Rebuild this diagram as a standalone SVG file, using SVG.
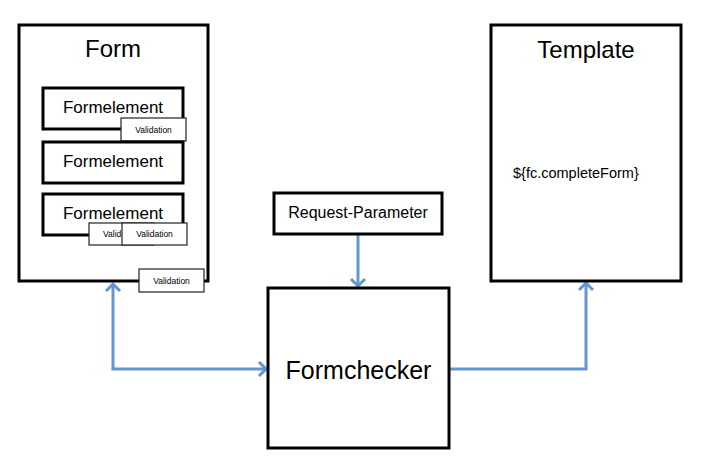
<svg xmlns="http://www.w3.org/2000/svg" width="707" height="469" viewBox="0 0 707 469">
<style>
.box{fill:#fff;stroke:#000;stroke-width:3}
.val{fill:#fff;stroke:#222;stroke-width:1.2}
.t{font-family:"Liberation Sans",Arial,sans-serif;fill:#000;text-anchor:middle}
.big{font-size:24px}
.fe{font-size:17px}
.vt{font-size:8.5px}
.conn{fill:none;stroke:#6497cf;stroke-width:3}
</style>
<defs>
<marker id="ah" markerUnits="userSpaceOnUse" markerWidth="20" markerHeight="20" refX="10" refY="10" orient="auto" viewBox="0 0 20 20">
<path d="M3,3 L10,10 L3,17" fill="none" stroke="#6497cf" stroke-width="3"/>
</marker>
</defs>
<rect width="707" height="469" fill="#fff"/>
<g id="connectors">
<path class="conn" d="M113,369 L113,284" marker-end="url(#ah)"/>
<path class="conn" d="M111.5,369 L266,369" marker-end="url(#ah)"/>
<path class="conn" d="M358,235 L358,286" marker-end="url(#ah)"/>
<path class="conn" d="M450,369 L586,369 L586,283" marker-end="url(#ah)"/>
</g>
<g id="form">
<rect class="box" x="19" y="25" width="189" height="256"/>
<text class="t big" x="113" y="57">Form</text>
</g>
<g id="formelement1">
<rect class="box" x="43" y="88" width="140" height="41"/>
<text class="t fe" x="113" y="113">Formelement</text>
</g>
<g id="validation1">
<rect class="val" x="121" y="118" width="65" height="23"/>
<text class="t vt" x="153.5" y="133">Validation</text>
</g>
<g id="formelement2">
<rect class="box" x="43" y="142" width="140" height="41"/>
<text class="t fe" x="113" y="167">Formelement</text>
</g>
<g id="formelement3">
<rect class="box" x="43" y="194" width="140" height="41"/>
<text class="t fe" x="113" y="219">Formelement</text>
</g>
<g id="validation2">
<rect class="val" x="89" y="223" width="65" height="22"/>
<text class="t vt" style="text-anchor:start" x="103" y="237">Valid</text>
</g>
<g id="validation3">
<rect class="val" x="122" y="223" width="65" height="22"/>
<text class="t vt" x="154.5" y="237">Validation</text>
</g>
<g id="validation4">
<rect class="val" x="139" y="269" width="65" height="23"/>
<text class="t vt" x="171.5" y="284">Validation</text>
</g>
<g id="request-parameter">
<rect class="box" x="274" y="193" width="168" height="41"/>
<text class="t" style="font-size:16px" x="358" y="218">Request-Parameter</text>
</g>
<g id="formchecker">
<rect class="box" x="268" y="288" width="181" height="160"/>
<text class="t" style="font-size:25px" x="358.5" y="379">Formchecker</text>
</g>
<g id="template">
<rect class="box" x="491" y="25" width="190" height="256"/>
<text class="t big" x="586" y="58">Template</text>
<text class="t" style="font-size:14.5px;text-anchor:start" x="513" y="178">${fc.completeForm}</text>
</g>
</svg>
